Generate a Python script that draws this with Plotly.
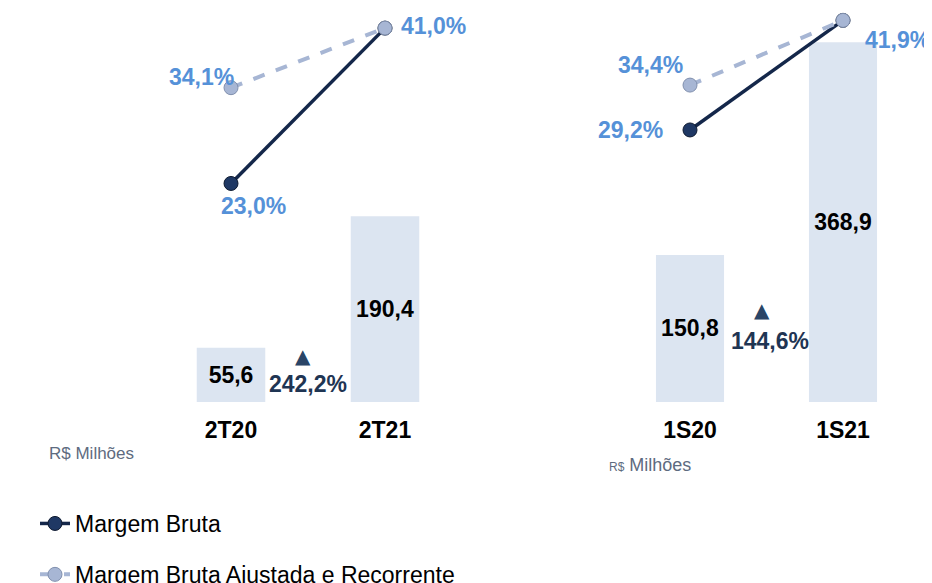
import plotly.graph_objects as go

# The page body adds an 8px margin; figure coordinates are reference pixels minus 8.
# The figure is a little taller than the window so the clipped legend fits without margin push.
OFF = 8
W, H = 932 - OFF, 600

# ---- data ----
cat_q = ["2T20", "2T21"]
cat_s = ["1S20", "1S21"]
bar_q = [55.6, 190.4]
bar_s = [150.8, 368.9]
mb_q = [23.0, 41.0]          # Margem Bruta (%)
mb_s = [29.2, 41.9]
mbr_q = [34.1, 41.0]         # Margem Bruta Ajustada e Recorrente (%)
mbr_s = [34.4, 41.9]
growth = ["242,2%", "144,6%"]

def br(v, pct=False):
    s = f"{v:.1f}".replace(".", ",")
    return s + ("%" if pct else "")

BAR_C = "#DCE5F1"
NAVY = "#14274A"
NAVY_M = "#1F3864"
LIGHT = "#A7B6D4"
PCT_C = "#5591D8"
GROW_C = "#1F3553"
FONT = "Liberation Sans, Arial, sans-serif"

# plot area in reference pixels: y from 10 to 402
TOP, BOT = 10, 402

def px_x(px):
    return (px - OFF) / W

def px_y(py):
    return 1 - (py - OFF) / H

fig = go.Figure()

for xa, cats, bars, mb, mbr, show in [("x", cat_q, bar_q, mb_q, mbr_q, True),
                                      ("x2", cat_s, bar_s, mb_s, mbr_s, False)]:
    fig.add_trace(go.Bar(x=cats, y=bars, xaxis=xa, yaxis="y", width=0.445,
                         marker=dict(color=BAR_C, line=dict(width=0)),
                         text=[br(v) for v in bars], textposition="inside",
                         insidetextanchor="middle",
                         textfont=dict(family=FONT, size=23, color="#000000", weight="bold"),
                         showlegend=False, hoverinfo="skip"))
    fig.add_trace(go.Scatter(x=cats, y=mb, xaxis=xa, yaxis="y2", mode="lines+markers",
                             name="Margem Bruta", legendgroup="a", legendrank=1, showlegend=show,
                             line=dict(color=NAVY, width=3.5),
                             marker=dict(size=14, color=NAVY_M, line=dict(color="#0E1A30", width=1))))
    fig.add_trace(go.Scatter(x=cats, y=mbr, xaxis=xa, yaxis="y2", mode="lines+markers",
                             name="Margem Bruta Ajustada e Recorrente",
                             legendgroup="b", legendrank=2, showlegend=show,
                             line=dict(color=LIGHT, width=4, dash="dash"),
                             marker=dict(size=14, color=LIGHT, line=dict(color="#8190AE", width=1))))

annots = []
def pct_ann(xa, xcat, val, xs, ys):
    annots.append(dict(x=xcat, y=val, xref=xa, yref="y2", text=br(val, True), showarrow=False,
                       xshift=xs, yshift=ys,
                       font=dict(family=FONT, size=23, color=PCT_C, weight="bold")))

pct_ann("x", cat_q[0], mb_q[0], 22, -23)
pct_ann("x", cat_q[0], mbr_q[0], -30, 11)
pct_ann("x", cat_q[1], mb_q[1], 48, 2)
pct_ann("x2", cat_s[0], mb_s[0], -60, 0)
pct_ann("x2", cat_s[0], mbr_s[0], -40, 20)
pct_ann("x2", cat_s[1], mb_s[1], 54, -20)

for xa, tx, ty, gx, gy, g in [("x", 0.47, 47, 0.5, 18, growth[0]),
                              ("x2", 0.47, 94, 0.52, 62.5, growth[1])]:
    annots.append(dict(x=tx, y=ty, xref=xa, yref="y", text="▲", showarrow=False,
                       font=dict(family="DejaVu Sans", size=20, color="#2A4567")))
    annots.append(dict(x=gx, y=gy, xref=xa, yref="y", text=g, showarrow=False,
                       font=dict(family=FONT, size=23, color=GROW_C, weight="bold")))

annots.append(dict(x=px_x(91), y=px_y(453), xref="paper", yref="paper",
                   xanchor="center", yanchor="middle",
                   text="R$ Milhões", showarrow=False,
                   font=dict(family=FONT, size=17, color="#5E6B80")))
annots.append(dict(x=px_x(650), y=px_y(465), xref="paper", yref="paper",
                   xanchor="center", yanchor="middle",
                   text="<span style='font-size:12px'>R$</span> Milhões", showarrow=False,
                   font=dict(family=FONT, size=18, color="#5E6B80")))

axis_common = dict(showgrid=False, zeroline=False, showline=False, ticks="",
                   tickfont=dict(family=FONT, size=23, color="#000000", weight="bold"),
                   ticklabelstandoff=12, fixedrange=True)
ydom = [px_y(BOT), px_y(TOP)]

fig.update_layout(
    width=W, height=H,
    margin=dict(l=0, r=0, t=0, b=0, pad=0),
    paper_bgcolor="white", plot_bgcolor="white",
    xaxis=dict(domain=[px_x(154), px_x(462)], range=[-0.5, 1.5], anchor="y", **axis_common),
    xaxis2=dict(domain=[px_x(613.5), px_x(919.5)], range=[-0.5, 1.5], anchor="y", **axis_common),
    yaxis=dict(domain=ydom, range=[0, 402], visible=False, fixedrange=True),
    yaxis2=dict(range=[-2.32, 43.1], visible=False, overlaying="y", fixedrange=True),
    showlegend=True,
    legend=dict(x=px_x(35), y=px_y(502), xanchor="left", yanchor="top",
                font=dict(family=FONT, size=23, color="#000000"),
                traceorder="grouped", tracegroupgap=18, bgcolor="rgba(0,0,0,0)"),
    annotations=annots,
    font=dict(family=FONT),
)

fig.write_html("out.html")
